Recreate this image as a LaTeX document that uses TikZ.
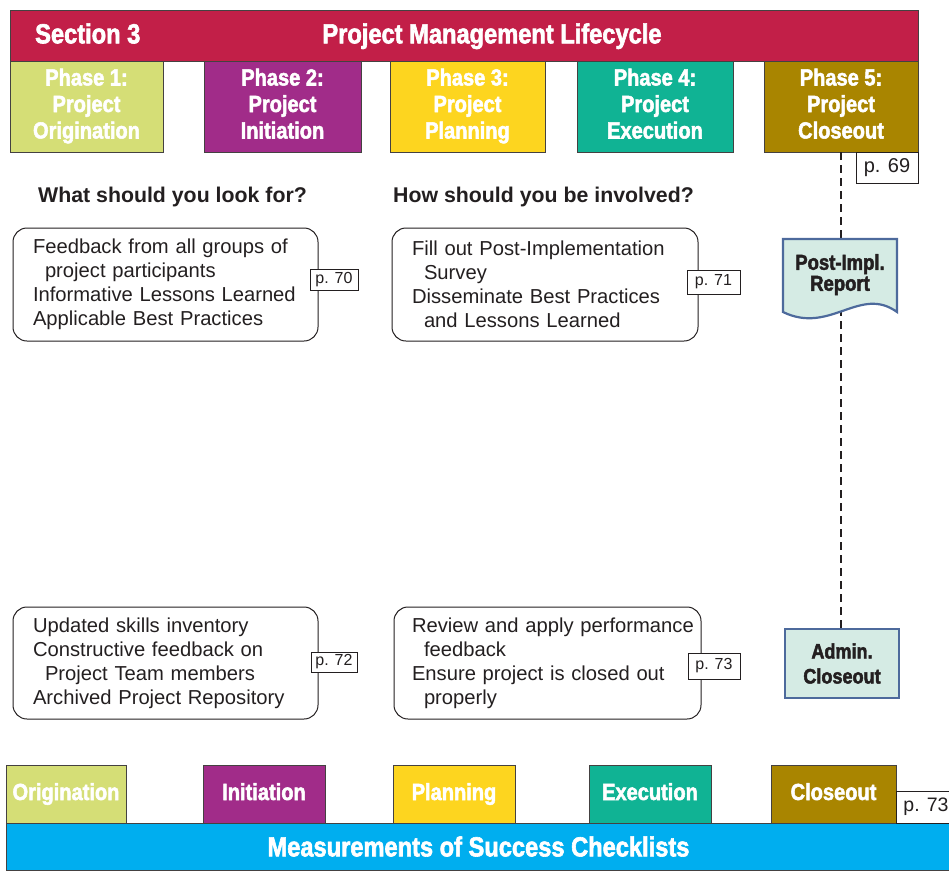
\documentclass[tikz,border=0pt]{standalone}
\usepackage{fontspec}
\setmainfont{Liberation Sans}
\newfontfamily\condfont[FakeStretch=0.86,BoldFeatures={FakeBold=2.2}]{Liberation Sans}
\usetikzlibrary{positioning, calc}
\definecolor{sec_red}{HTML}{C21F48}
\definecolor{ph_orig}{HTML}{D5DE76}
\definecolor{ph_init}{HTML}{A12C89}
\definecolor{ph_plan}{HTML}{FDD51F}
\definecolor{ph_exec}{HTML}{10B394}
\definecolor{ph_close}{HTML}{A98500}
\definecolor{mos_blue}{HTML}{00AEEF}
\definecolor{doc_fill}{HTML}{D5EBE4}
\definecolor{doc_line}{HTML}{4D6A9C}
\definecolor{ink}{HTML}{231F20}
\tikzset{
  bigtitle/.style={text=white,inner sep=0pt,font=\condfont\bfseries\fontsize{27.5}{30}\selectfont},
  bar/.style={draw=ink!85,line width=1pt,inner sep=0pt,outer sep=0pt},
  phase/.style={bar,text=white,align=center,minimum height=91pt,text height=70.5pt,text depth=6.5pt,font=\condfont\bfseries\fontsize{23.3}{26.5}\selectfont},
  tab/.style={phase,minimum height=58pt,minimum width=122pt,text height=17pt,text depth=5pt},
  question/.style={text=ink,inner sep=0pt,anchor=base west,font=\bfseries\fontsize{21.3}{24}\selectfont},
  answer/.style={draw=ink,line width=1pt,rounded corners=14pt,text=ink,align=left,inner xsep=20pt,inner ysep=0pt,font=\fontsize{20.2}{24}\selectfont},
  pageref/.style={draw=ink,line width=0.8pt,fill=white,text=ink,inner sep=0pt,outer sep=0pt,font=\fontsize{16}{16}\selectfont},
  doc/.style={draw=doc_line,line width=2.2pt,fill=doc_fill},
  doctext/.style={text=ink,align=center,inner sep=0pt,font=\condfont\bfseries\fontsize{21.5}{21}\selectfont},
  lifeline/.style={draw=ink,line width=2.5pt,dash pattern=on 8pt off 5pt},
}

\begin{document}
\begin{tikzpicture}[x=1pt,y=-1pt]
  \useasboundingbox (0,0) rectangle (949,870);
  % header and phases
  \node[bar,fill=sec_red,minimum width=908pt,minimum height=51pt] (head) at (464,35.5) {};
  \node[bigtitle,anchor=base west] (sect) at (35,43.3) {Section 3};
  \node[bigtitle,anchor=base] (title) at (492,43.3) {Project Management Lifecycle};
  \node[phase,fill=ph_orig,minimum width=153pt] (p1) at (86.5,106.5) {Phase 1:\\Project\\Origination};
  \node[phase,fill=ph_init,minimum width=157pt,right=41pt of p1] (p2) {Phase 2:\\Project\\Initiation};
  \node[phase,fill=ph_plan,minimum width=155pt,right=29pt of p2] (p3) {Phase 3:\\Project\\Planning};
  \node[phase,fill=ph_exec,minimum width=156pt,right=32pt of p3] (p4) {Phase 4:\\Project\\Execution};
  \node[phase,fill=ph_close,minimum width=154pt,right=31pt of p4] (p5) {Phase 5:\\Project\\Closeout};
  \node[pageref,minimum width=62pt,minimum height=31pt,font=\fontsize{20}{20}\selectfont,anchor=north east] (pg69) at (p5.south east) {p. 69};

  % questions
  \node[question] (lookfor) at (38,202.7) {What should you look for?};
  \node[question] (involved) at (393,202.7) {How should you be involved?};

  % closeout products
  \node[doc,minimum width=114pt,minimum height=69pt] (admin) at (842,663.5) {};
  \draw[lifeline] (p5.south) -- (p5.south |- admin.north);
  \draw[doc] (783,239) -- (897,239) -- (897,312)
    .. controls (860,285) and (830,335) .. (783,312) -- cycle;
  \node[doctext] (report) at (840,274.7) {Post-Impl.\\Report};
  \node[doctext,font=\condfont\bfseries\fontsize{21}{25}\selectfont] (admintext) at (admin) {Admin.\\Closeout};

  % what to look for / how to be involved
  \node[answer,text width=265pt,minimum height=113pt] (look1) at (165.5,284.5)
    {Feedback from all groups of\\\hspace*{12pt}project participants\\Informative Lessons Learned\\Applicable Best Practices};
  \node[answer,text width=266pt,minimum height=113pt] (do1) at (545,284.5)
    {Fill out Post-Implementation\\\hspace*{12pt}Survey\\Disseminate Best Practices\\\hspace*{12pt}and Lessons Learned};
  \node[answer,text width=265pt,minimum height=112pt] (look2) at (165.5,663)
    {Updated skills inventory\\Constructive feedback on\\\hspace*{12pt}Project Team members\\Archived Project Repository};
  \node[answer,text width=271pt,inner xsep=18pt,minimum height=112pt] (do2) at (547.5,663)
    {\mbox{Review and apply performance}\\\hspace*{12pt}feedback\\Ensure project is closed out\\\hspace*{12pt}properly};
  \node[pageref,minimum width=48pt,minimum height=21pt] (pg70) at (334,279.5) {p. 70};
  \node[pageref,minimum width=53pt,minimum height=24pt] (pg71) at (713.5,282) {p. 71};
  \node[pageref,minimum width=46pt,minimum height=20pt] (pg72) at (334,662) {p. 72};
  \node[pageref,minimum width=52pt,minimum height=26pt] (pg73) at (714,666) {p. 73};

  % checklists
  \node[bar,fill=mos_blue,minimum width=945pt,minimum height=47pt,bigtitle] (mos) at (478.5,846.5) {Measurements of Success Checklists};
  \node[tab,fill=ph_orig,minimum width=120pt] (t1) at (66,794) {Origination};
  \node[tab,fill=ph_init,right=77pt of t1] (t2) {Initiation};
  \node[tab,fill=ph_plan,right=68pt of t2] (t3) {Planning};
  \node[tab,fill=ph_exec,right=74pt of t3] (t4) {Execution};
  \node[tab,fill=ph_close,minimum width=125pt,right=60pt of t4] (t5) {Closeout};
  \node[pageref,minimum width=60pt,minimum height=32pt,font=\fontsize{19.5}{20}\selectfont,anchor=south west] (pg73b) at (t5.south east) {p. 73};
\end{tikzpicture}
\end{document}
